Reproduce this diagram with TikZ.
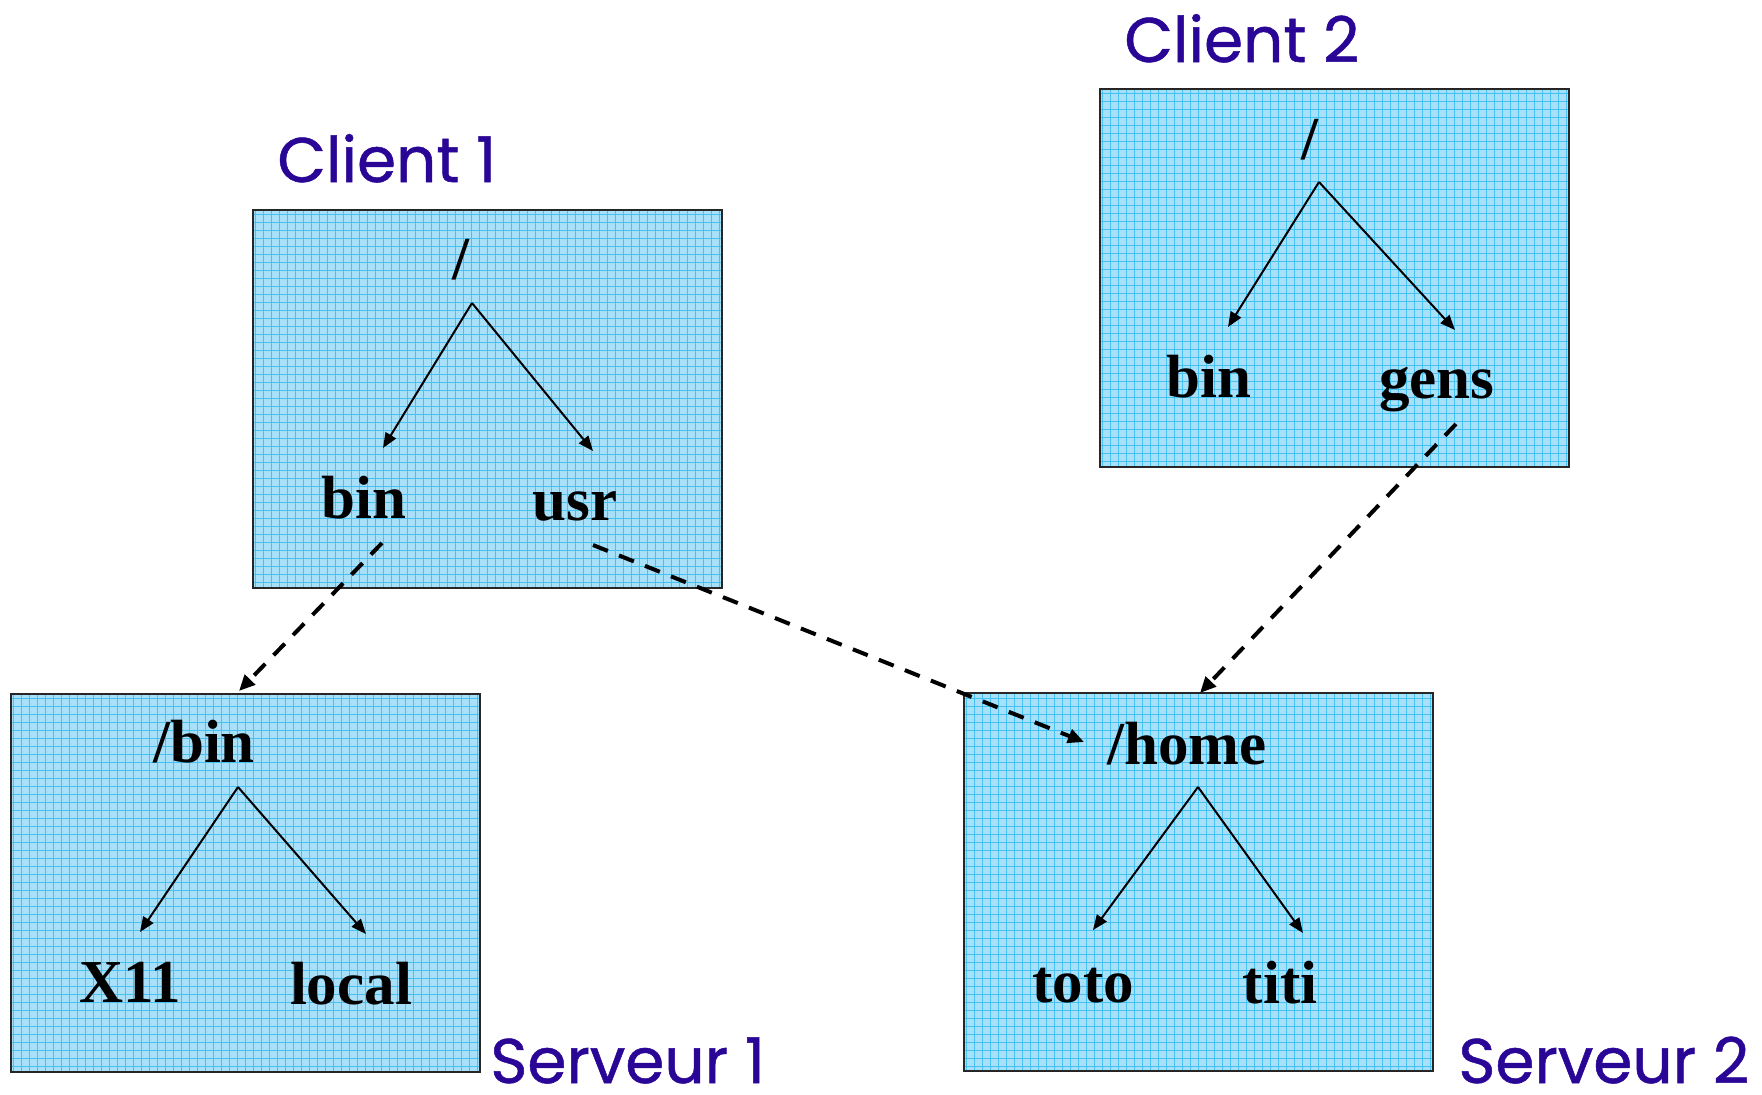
\documentclass[tikz,border=0pt]{standalone}
\usepackage{fontspec}
\setmainfont{Liberation Serif}
\newfontfamily\comicfont{Poppins}[FakeBold=0.8]
\usetikzlibrary{arrows.meta}
\definecolor{boxfill}{HTML}{A8E0FA}
\definecolor{gridc}{HTML}{45C2F2}
\definecolor{labelc}{RGB}{42,6,150}
\tikzset{
  fsbox/.style={draw=black!85, line width=1pt, fill=boxfill, inner sep=0pt,
    minimum width=234.5pt, minimum height=189pt,
    path picture={\draw[gridc, line width=0.35pt, step=4pt]
      (path picture bounding box.south west) grid (path picture bounding box.north east);}},
  dirtext/.style={font=\fontsize{30.5}{36}\selectfont\bfseries, inner sep=0pt, anchor=base},
  hostlabel/.style={font=\comicfont\fontsize{31.5}{36}\selectfont, text=labelc, inner sep=0pt, anchor=base west},
  treearrow/.style={line width=1pt, -{Triangle[length=7.5pt, width=6pt]}},
  mountarrow/.style={line width=2pt, dash pattern=on 8pt off 6pt, -{Triangle[length=8pt, width=7pt]}}
}
\begin{document}
\begin{tikzpicture}[x=0.5pt, y=-0.5pt]
\useasboundingbox (0,0) rectangle (1762,1094);

% boxes
\node[fsbox] (c1box) at (487,398.5) {};
\node[fsbox] (c2box) at (1334.5,277.5) {};
\node[fsbox] (s1box) at (245.5,882.5) {};
\node[fsbox] (s2box) at (1198,882) {};

% host labels
\node[hostlabel] (c1lab) at (277,182) {Client 1};
\node[hostlabel] (c2lab) at (1124,62) {Client 2};
\node[hostlabel] (s1lab) at (490,1083) {Serveur 1};
\node[hostlabel] (s2lab) at (1458,1083) {Serveur 2};

% Client 1 tree
\node[dirtext] (c1root) at (461,279) {/};
\node[dirtext] (c1bin) at (364,518) {bin};
\node[dirtext] (c1usr) at (575,520) {usr};
\coordinate (c1apex) at (472,303);
\coordinate (c1bintip) at (383,448);
\coordinate (c1usrtip) at (593,451);
\draw[treearrow] (c1apex) -- (c1bintip);
\draw[treearrow] (c1apex) -- (c1usrtip);

% Client 2 tree
\node[dirtext] (c2root) at (1310,159) {/};
\node[dirtext] (c2bin) at (1209,397) {bin};
\node[dirtext] (c2gens) at (1437,398) {gens};
\coordinate (c2apex) at (1319,182);
\coordinate (c2bintip) at (1228,327);
\coordinate (c2genstip) at (1455,330);
\draw[treearrow] (c2apex) -- (c2bintip);
\draw[treearrow] (c2apex) -- (c2genstip);

% Serveur 1 tree
\node[dirtext] (s1root) at (204,762) {/bin};
\node[dirtext] (s1x) at (130,1002) {X11};
\node[dirtext] (s1local) at (351,1004) {local};
\coordinate (s1apex) at (238,787);
\coordinate (s1xtip) at (140,932);
\coordinate (s1localtip) at (366,934);
\draw[treearrow] (s1apex) -- (s1xtip);
\draw[treearrow] (s1apex) -- (s1localtip);

% Serveur 2 tree
\node[dirtext] (s2root) at (1187,764) {/home};
\node[dirtext] (s2toto) at (1083,1002) {toto};
\node[dirtext] (s2titi) at (1280,1003) {titi};
\coordinate (s2apex) at (1198,787);
\coordinate (s2tototip) at (1093,930);
\coordinate (s2tititip) at (1303,933);
\draw[treearrow] (s2apex) -- (s2tototip);
\draw[treearrow] (s2apex) -- (s2tititip);

% mount connectors
\coordinate (m1start) at (382,543);
\coordinate (m1end) at (239,691);
\coordinate (m2start) at (593,545);
\coordinate (m2end) at (1084,742);
\coordinate (m3start) at (1456,424);
\coordinate (m3end) at (1200,693);
\draw[mountarrow] (m1start) -- (m1end);
\draw[mountarrow] (m2start) -- (m2end);
\draw[mountarrow] (m3start) -- (m3end);
\end{tikzpicture}
\end{document}
